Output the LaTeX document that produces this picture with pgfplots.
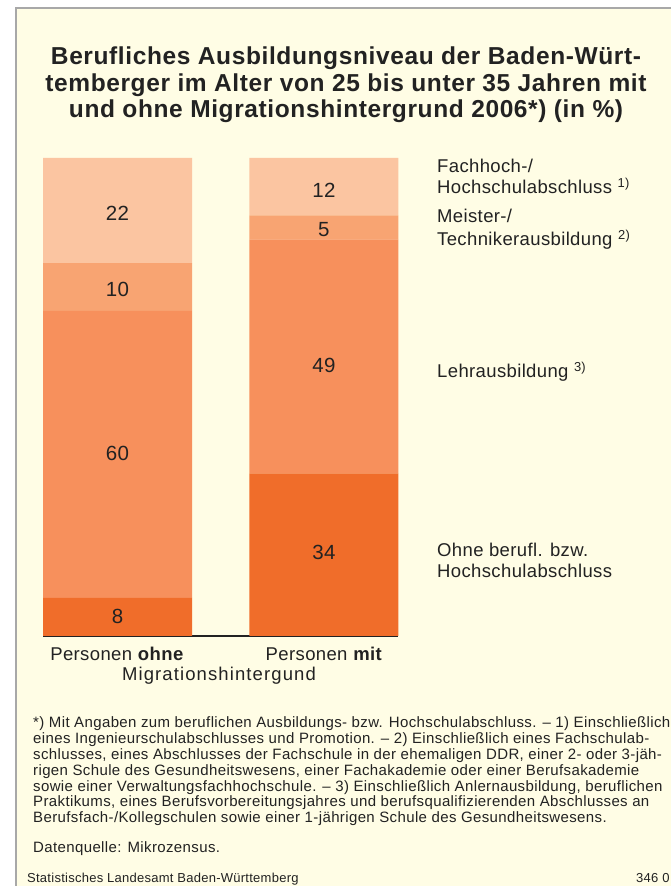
\documentclass[border=0pt]{standalone}
\usepackage{pgfplots}
\pgfplotsset{compat=1.18}
\usepackage{fontspec}
\setmainfont{Liberation Sans}
\newfontfamily\lblfont[LetterSpace=2]{Liberation Sans}
\newfontfamily\migfont[LetterSpace=6]{Liberation Sans}
\newfontfamily\ttlfont[LetterSpace=2.5]{Liberation Sans}
\newfontfamily\fnfont[LetterSpace=2.5]{Liberation Sans}
\definecolor{bg}{HTML}{FFFDE5}
\definecolor{frame}{HTML}{A8A8A8}
\definecolor{txt}{HTML}{222222}
\definecolor{c1}{HTML}{F06D2A}
\definecolor{c2}{HTML}{F7905C}
\definecolor{c3}{HTML}{F8A472}
\definecolor{c4}{HTML}{FBC5A1}
\tikzset{barlbl/.style={text=txt,inner sep=0pt,anchor=center,font=\lblfont\fontsize{20.5}{24}\selectfont}}
\pgfplotsset{barax/.style={at={(43.2pt,250pt)},anchor=south west,scale only axis,
  width=355pt,height=478pt,xmin=-0.36,xmax=1.36,ymin=0,ymax=100,
  hide axis,clip=false}}
\begin{document}
\begin{tikzpicture}[x=1pt,y=1pt]
\useasboundingbox (0,0) rectangle (671,886);
\fill[white] (0,0) rectangle (671,886);
\fill[bg] (16,0) rectangle (671,878);
\draw[frame,line width=1.6pt] (16,0) -- (16,878) -- (672,878);
% title
\begin{scope}[every node/.style={text=txt,inner sep=0pt,anchor=base,font=\ttlfont\bfseries\fontsize{24.5}{29}\selectfont}]
\node at (346,821) {Berufliches Ausbildungsniveau der Baden-Würt-};
\node at (346,794.5) {temberger im Alter von 25 bis unter 35 Jahren mit};
\node at (346,768) {und ohne Migrationshintergrund 2006*) (in \%)};
\end{scope}
\begin{axis}[barax,ybar stacked,bar width=149pt]
\addplot[fill=c1,draw=none] coordinates {(0,8) (1,34)};
\addplot[fill=c2,draw=none] coordinates {(0,60) (1,49)};
\addplot[fill=c3,draw=none] coordinates {(0,10) (1,5)};
\addplot[fill=c4,draw=none] coordinates {(0,22) (1,12)};
\draw[txt,line width=1.4pt] (axis cs:-0.36,0) -- (axis cs:1.36,0);
\end{axis}
\begin{axis}[barax]
\node[barlbl] at (axis cs:0,88.5) {22};
\node[barlbl] at (axis cs:0,72.6) {10};
\node[barlbl] at (axis cs:0,38.1) {60};
\node[barlbl] at (axis cs:0,4.0) {8};
\node[barlbl] at (axis cs:1,93.3) {12};
\node[barlbl] at (axis cs:1,85.1) {5};
\node[barlbl] at (axis cs:1,56.5) {49};
\node[barlbl] at (axis cs:1,17.4) {34};
\end{axis}
% legend labels
\begin{scope}[every node/.style={text=txt,inner sep=0pt,anchor=base west,font=\lblfont\fontsize{18.5}{22}\selectfont}]
\node at (437,713) {Fachhoch-/};
\node at (437,692) {Hochschulabschluss \textsuperscript{1)}};
\node at (437,663) {Meister-/};
\node at (437,640) {Technikerausbildung \textsuperscript{2)}};
\node at (437,508) {Lehrausbildung \textsuperscript{3)}};
\node at (437,329) {Ohne berufl. bzw.};
\node at (437,308) {Hochschulabschluss};
\end{scope}
% category labels
\begin{scope}[every node/.style={text=txt,inner sep=0pt,anchor=base,font=\lblfont\fontsize{18.5}{22}\selectfont}]
\node at (117,225) {Personen \textbf{ohne}};
\node at (324,225) {Personen \textbf{mit}};
\node[font=\migfont\fontsize{18.5}{22}\selectfont] at (219,205) {Migrationshintergund};
\end{scope}
% footnotes
\begin{scope}[every node/.style={text=txt,inner sep=0pt,anchor=base west,font=\fnfont\fontsize{15}{16}\selectfont}]
\node at (33,158) {*) Mit Angaben zum beruflichen Ausbildungs- bzw. Hochschulabschluss. – 1) Einschließlich};
\node at (33,142.2) {eines Ingenieurschulabschlusses und Promotion. – 2) Einschließlich eines Fachschulab-};
\node at (33,126.4) {schlusses, eines Abschlusses der Fachschule in der ehemaligen DDR, einer 2- oder 3-jäh-};
\node at (33,110.6) {rigen Schule des Gesundheitswesens, einer Fachakademie oder einer Berufsakademie};
\node at (33,94.8) {sowie einer Verwaltungsfachhochschule. – 3) Einschließlich Anlernausbildung, beruflichen};
\node at (33,79) {Praktikums, eines Berufsvorbereitungsjahres und berufsqualifizierenden Abschlusses an};
\node at (33,63.2) {Berufsfach-/Kollegschulen sowie einer 1-jährigen Schule des Gesundheitswesens.};
\node at (33,33) {Datenquelle: Mikrozensus.};
\end{scope}
\begin{scope}[every node/.style={text=txt,inner sep=0pt,anchor=base west,font=\lblfont\fontsize{13}{15}\selectfont}]
\node at (27,4) {Statistisches Landesamt Baden-Württemberg};
\node at (636,4) {346 0};
\end{scope}
\end{tikzpicture}
\end{document}
